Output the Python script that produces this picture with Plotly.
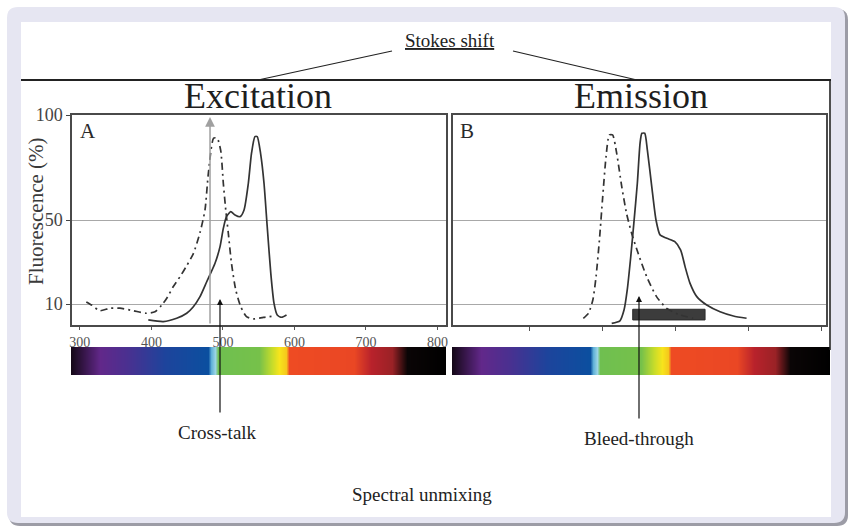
import plotly.graph_objects as go

W, H = 848, 527


def fx(p):
    return p / W


def fy(p):
    return 1 - p / H


# ---------------- data ----------------
# Panel A (excitation spectra), wavelength (nm) vs fluorescence (%)
exc_dash_x = [309, 316.5, 328, 342, 356, 375, 393, 405, 414.5, 421.5, 430.7, 440, 449, 458.7, 468,
              475, 479.6, 487, 492, 497, 500.6, 504, 507.6, 512, 518, 525, 533, 542.6, 556.6, 573]
exc_dash_y = [11, 9.5, 6.8, 8, 8, 6.8, 5.6, 6.3, 9.5, 12.7, 18.3, 23, 28, 34, 44,
              54.8, 72, 89, 89, 83, 67.5, 54.8, 43.7, 29.4, 16.7, 8.7, 4, 2.9, 3.6, 4.3]

exc_solid_x = [395.7, 416.7, 435.4, 449.4, 458.7, 468, 477.4, 489, 496, 500.6, 505, 511, 517, 524,
               529.6, 535.6, 540, 544.8, 548, 552.7, 557.5, 562, 567, 571.5, 576, 582, 589]
exc_solid_y = [2.4, 1.6, 3.2, 5.6, 8.7, 13.5, 20.6, 29.4, 37.3, 46, 51.6, 54, 52.4, 51.6,
               54.8, 67.5, 81.7, 89.7, 89.7, 81.7, 67.5, 46.8, 24.6, 10.3, 4.8, 3.7, 4.8]

# Panel B (emission spectra)
em_dash_x = [474, 481, 487, 491.4, 496, 500.5, 505, 509.5, 514, 519.6, 526.5, 533, 540, 549,
             560.6, 574, 588, 606, 624]
em_dash_y = [3.2, 5.6, 11.9, 23, 40.5, 61, 80, 90.5, 90.5, 81.7, 65.9, 53.2, 43.7, 34,
             23, 13.5, 7.9, 4.8, 3.2]

em_solid_x = [512.8, 524, 529.6, 534, 538.8, 543, 547.8, 551.5, 554, 557.9, 561.5, 567.5, 573.3,
              578.8, 588, 599, 607, 613, 619.8, 629, 642.6, 660.8, 679, 697]
em_solid_y = [0.8, 2, 7.1, 16.7, 32.5, 48.4, 67.5, 86.5, 91.3, 91.3, 83.3, 65.9, 50,
              42.9, 41.3, 39.7, 35.7, 27.8, 19.8, 13.5, 9.5, 6.3, 4.3, 3.2]

# detection band in panel B
filter_band_nm = [541.5, 640.3]
filter_band_level = [2.4, 7.5]

# excitation line (nm)
laser_nm = 482

# axis ticks
a_ticks = [300, 400, 500, 600, 700, 800]
b_ticks = [400, 500, 600, 700, 800]
y_ticks = [10, 50, 100]

# visible spectrum colour bar (relative position, colour)
spec_stops = [0.0, 0.077, 0.15, 0.25, 0.365, 0.372, 0.384, 0.392, 0.50, 0.535, 0.555, 0.572,
              0.58, 0.755, 0.80, 0.855, 0.895, 1.0]
spec_colors = ['#150818', '#62288a', '#4a3090', '#1d449c', '#0b4f9f', '#5fb0d8', '#9ad4e4',
               '#6fbf50', '#76c14a', '#c8dc2a', '#f7e41c', '#f5c81c', '#ee4b23', '#ea4724',
               '#b8222b', '#9a2226', '#0a0506', '#000000']

# ---------------- figure ----------------
SERIF = 'Liberation Serif, Times New Roman, serif'
LINE = '#333333'
DASHDOT = '7px,4px,2px,4px'

fig = go.Figure()

colorscale = [[s, c] for s, c in zip(spec_stops, spec_colors)]
for xa, ya in (('x3', 'y3'), ('x4', 'y4')):
    fig.add_trace(go.Heatmap(x=spec_stops, z=[spec_stops], colorscale=colorscale, zmin=0, zmax=1,
                             zsmooth='best', showscale=False, xaxis=xa, yaxis=ya, hoverinfo='skip'))

# filter band
fb_x = [filter_band_nm[0], filter_band_nm[1], filter_band_nm[1], filter_band_nm[0], filter_band_nm[0]]
fb_y = [filter_band_level[0], filter_band_level[0], filter_band_level[1], filter_band_level[1],
        filter_band_level[0]]
fig.add_trace(go.Scatter(x=fb_x, y=fb_y, fill='toself', fillcolor='#3c3c3c', mode='lines',
                         line=dict(color='#2a2a2a', width=1), xaxis='x2', yaxis='y2',
                         hoverinfo='skip'))

fig.add_trace(go.Scatter(x=exc_dash_x, y=exc_dash_y, mode='lines',
                         line=dict(color=LINE, width=1.7, dash=DASHDOT, shape='spline', smoothing=0.6),
                         xaxis='x', yaxis='y'))
fig.add_trace(go.Scatter(x=exc_solid_x, y=exc_solid_y, mode='lines',
                         line=dict(color=LINE, width=1.7, shape='spline', smoothing=0.6),
                         xaxis='x', yaxis='y'))
fig.add_trace(go.Scatter(x=em_dash_x, y=em_dash_y, mode='lines',
                         line=dict(color=LINE, width=1.7, dash=DASHDOT, shape='spline', smoothing=0.6),
                         xaxis='x2', yaxis='y2'))
fig.add_trace(go.Scatter(x=em_solid_x, y=em_solid_y, mode='lines',
                         line=dict(color=LINE, width=1.7, shape='spline', smoothing=0.6),
                         xaxis='x2', yaxis='y2'))

ydom = [fy(325), fy(115)]
axis_common = dict(showline=True, mirror=True, linecolor='#4a4a4a', linewidth=1.5, zeroline=False,
                   automargin=False)

fig.update_layout(
    width=W, height=H, margin=dict(l=0, r=0, t=0, b=0, pad=0, autoexpand=False),
    paper_bgcolor='white', plot_bgcolor='rgba(0,0,0,0)', showlegend=False,
    xaxis=dict(domain=[fx(72), fx(446)], range=[289, 812], tickvals=a_ticks, ticks='outside',
               ticklen=3, tickcolor='#555', showgrid=False, anchor='y',
               tickfont=dict(family=SERIF, size=14, color='#555'), **axis_common),
    yaxis=dict(domain=ydom, range=[0, 100], tickvals=y_ticks, ticks='outside', ticklen=4,
               tickcolor='#444', showgrid=True, gridcolor='#a8a8a8', gridwidth=1.2, anchor='x',
               tickfont=dict(family=SERIF, size=18, color='#444'), **axis_common),
    xaxis2=dict(domain=[fx(453), fx(826)], range=[296, 805.5], tickvals=b_ticks, ticks='outside',
                ticklen=4, tickcolor='#555', showticklabels=False, showgrid=False, anchor='y2',
                **axis_common),
    yaxis2=dict(domain=ydom, range=[0, 100], tickvals=y_ticks, ticks='', showticklabels=False,
                showgrid=True, gridcolor='#a8a8a8', gridwidth=1.2, anchor='x2', **axis_common),
    xaxis3=dict(domain=[fx(71), fx(446)], range=[0, 1], visible=False, anchor='y3'),
    yaxis3=dict(domain=[fy(375), fy(347)], range=[-0.5, 0.5], visible=False, anchor='x3'),
    xaxis4=dict(domain=[fx(452), fx(830)], range=[0, 1], visible=False, anchor='y4'),
    yaxis4=dict(domain=[fy(375), fy(347)], range=[-0.5, 0.5], visible=False, anchor='x4'),
)


def rounded(x0, y0, x1, y1, r):
    rx, ry = r / W, r / H
    X0, X1 = fx(x0), fx(x1)
    Y0, Y1 = fy(y0), fy(y1)  # Y0 top (larger), Y1 bottom
    return (f'M {X0 + rx} {Y0} L {X1 - rx} {Y0} Q {X1} {Y0} {X1} {Y0 - ry} '
            f'L {X1} {Y1 + ry} Q {X1} {Y1} {X1 - rx} {Y1} L {X0 + rx} {Y1} '
            f'Q {X0} {Y1} {X0} {Y1 + ry} L {X0} {Y0 - ry} Q {X0} {Y0} {X0 + rx} {Y0} Z')


shapes = [
    dict(type='path', path=rounded(9, 9, 848, 526, 11), xref='paper', yref='paper',
         fillcolor='#9c9ca6', line=dict(width=0), layer='below'),
    dict(type='path', path=rounded(7, 7, 845, 523, 11), xref='paper', yref='paper',
         fillcolor='#e6e6f2', line=dict(width=0), layer='below'),
    dict(type='rect', x0=fx(21), x1=fx(831), y0=fy(517), y1=fy(22), xref='paper', yref='paper',
         fillcolor='white', line=dict(width=0), layer='below'),
    # frame
    dict(type='line', x0=fx(21), x1=fx(831), y0=fy(80), y1=fy(80), xref='paper', yref='paper',
         line=dict(color='#222', width=2)),
    dict(type='line', x0=fx(830), x1=fx(830), y0=fy(80), y1=fy(350), xref='paper', yref='paper',
         line=dict(color='#222', width=1.6)),
    # Stokes shift leaders
    dict(type='line', x0=fx(392), x1=fx(258), y0=fy(51), y1=fy(80), xref='paper', yref='paper',
         line=dict(color='#222', width=1.2)),
    dict(type='line', x0=fx(513), x1=fx(637), y0=fy(51), y1=fy(80), xref='paper', yref='paper',
         line=dict(color='#222', width=1.2)),
]
fig.update_layout(shapes=shapes)


def txt(x, y, s, size, color='#222', angle=0):
    return dict(x=fx(x), y=fy(y), xref='paper', yref='paper', text=s, showarrow=False,
                textangle=angle, xanchor='center', yanchor='middle',
                font=dict(family=SERIF, size=size, color=color))


annotations = [
    txt(450, 40, '<u>Stokes shift</u>', 19),
    txt(258, 96, 'Excitation', 36, '#1e1e1e'),
    txt(641, 96, 'Emission', 36, '#1e1e1e'),
    txt(88, 131, 'A', 21, '#2a2a2a'),
    txt(467, 131, 'B', 21, '#2a2a2a'),
    txt(36, 211, 'Fluorescence (%)', 21, '#3a3a3a', -90),
    txt(217, 432, 'Cross-talk', 19),
    txt(639, 438, 'Bleed-through', 19),
    txt(422, 494, 'Spectral unmixing', 19),
    # excitation (laser) arrow
    dict(x=laser_nm, y=99, ax=laser_nm, ay=0, xref='x', yref='y', axref='x', ayref='y', text='',
         showarrow=True, arrowhead=2, arrowsize=1.3, arrowwidth=1.5, arrowcolor='#a0a0a0'),
    # cross-talk arrow
    dict(x=fx(220), y=fy(299), xref='paper', yref='paper', ax=0, ay=115, text='', showarrow=True,
         arrowhead=2, arrowsize=1, arrowwidth=1.2, arrowcolor='#111'),
    # bleed-through arrow
    dict(x=fx(639), y=fy(296), xref='paper', yref='paper', ax=0, ay=124, text='', showarrow=True,
         arrowhead=2, arrowsize=1, arrowwidth=1.2, arrowcolor='#111'),
]
fig.update_layout(annotations=annotations)

fig.write_html('out.html')
